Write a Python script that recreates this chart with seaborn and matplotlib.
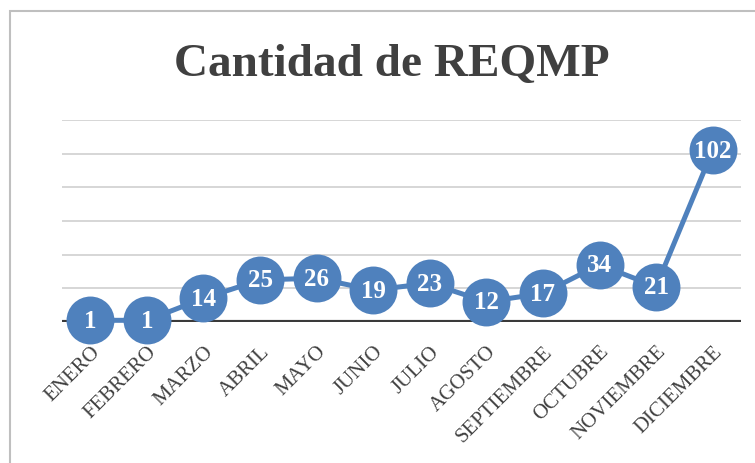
import numpy as np
import pandas as pd
import matplotlib
matplotlib.use("Agg")
import matplotlib.pyplot as plt
import seaborn as sns
from matplotlib.patches import Rectangle

# data
months = ["ENERO", "FEBRERO", "MARZO", "ABRIL", "MAYO", "JUNIO", "JULIO",
          "AGOSTO", "SEPTIEMBRE", "OCTUBRE", "NOVIEMBRE", "DICIEMBRE"]
counts = [1, 1, 14, 25, 26, 19, 23, 12, 17, 34, 21, 102]
y_ticks = [0, 20, 40, 60, 80, 100, 120]

df = pd.DataFrame({"mes": months, "cantidad": counts})

sns.set_theme(style="white")
plt.rcParams["font.family"] = ["Liberation Serif", "DejaVu Serif"]

blue = "#4f81bd"
text_col = "#404040"

fig = plt.figure(figsize=(7.55, 4.64), dpi=100)
fig.patch.set_facecolor("white")
ax = fig.add_axes([62 / 755, 1 - 323 / 464, (741 - 62) / 755, (323 - 121) / 464])

# outer frame of the chart area
fig.patches.append(Rectangle((10 / 755, -0.1), 1.0, 1 - 12 / 464 + 0.1,
                             transform=fig.transFigure, fill=False,
                             ec="#bfbfbf", lw=1.5))

for yv in y_ticks[1:]:
    ax.axhline(yv, color="#d0d0d0", lw=1.2, zorder=0)
ax.axhline(0, color="#3a3a3a", lw=3, zorder=1)

x = np.arange(len(months))
sns.lineplot(x=x, y=df["cantidad"], ax=ax, color=blue, lw=3.6,
             marker="o", markersize=34.5, markeredgewidth=0,
             markerfacecolor=blue, zorder=3, clip_on=False)

for xi, v in zip(x, counts):
    ax.text(xi, v, str(v), ha="center", va="center", color="white",
            fontsize=18, fontweight="bold", zorder=4, clip_on=False)

ax.set_xlim(-0.5, len(months) - 0.5)
ax.set_ylim(0, 120)
ax.set_yticks([])
ax.set_xticks(x)
ax.set_xticklabels(months, rotation=45, ha="right", rotation_mode="anchor",
                   fontsize=15, color=text_col)
ax.tick_params(axis="x", length=0, pad=14)
ax.set_xlabel("")
ax.set_ylabel("")
for s in ax.spines.values():
    s.set_visible(False)
ax.patch.set_alpha(0)

fig.text(392 / 755, 1 - 65 / 464, "Cantidad de REQMP", ha="center", va="center",
         fontsize=34, fontweight="bold", color=text_col)

fig.savefig("out.png", dpi=100)
